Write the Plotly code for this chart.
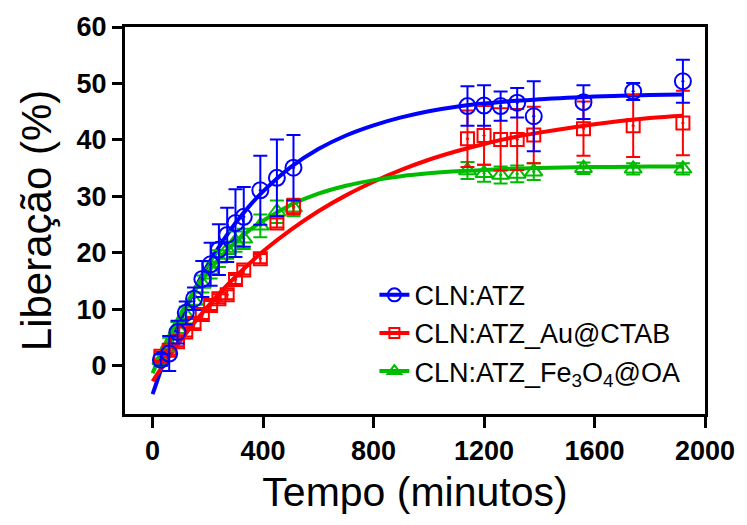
import plotly.graph_objects as go

# ---- data ----
time = [30, 60, 90, 120, 150, 180, 210, 240, 270, 300, 330, 390, 450, 510,
        1140, 1200, 1260, 1320, 1380, 1560, 1740, 1920]

atz_y = [1.1, 2.2, 6.0, 9.4, 11.9, 15.4, 18.0, 20.6, 23.2, 25.3, 26.4, 31.1, 33.3, 35.1,
         46.0, 46.1, 46.0, 46.6, 44.2, 46.7, 48.6, 50.4]
atz_err = [1.0, 3.1, 2.0, 2.0, 2.0, 3.2, 3.8, 4.5, 4.8, 6.0, 5.3, 6.1, 6.8, 5.8,
           3.5, 3.6, 2.6, 2.6, 6.2, 3.0, 1.5, 3.8]

au_y = [1.7, 2.8, 4.3, 6.0, 7.5, 9.1, 10.7, 11.9, 12.6, 15.3, 17.0, 19.0, 25.3, 28.2,
        40.2, 40.8, 40.1, 40.1, 40.9, 42.0, 42.5, 43.0]
au_err = [0.8, 0.8, 0.8, 0.8, 0.8, 0.8, 0.8, 0.8, 0.8, 0.8, 0.8, 0.8, 0.8, 1.4,
          5.0, 5.2, 5.5, 5.4, 5.0, 4.8, 5.5, 5.7]

fe_y = [1.0, 3.8, 6.5, 9.0, 11.5, 14.5, 17.0, 19.0, 20.5, 22.0, 22.5, 24.8, 27.3, 28.0,
        34.6, 34.1, 33.8, 34.0, 34.4, 35.0, 34.9, 34.9]
fe_err = [1.0, 1.2, 1.3, 1.5, 1.5, 1.5, 1.5, 1.5, 1.5, 1.8, 1.8, 2.0, 2.0, 1.5,
          1.5, 1.5, 1.5, 1.5, 1.5, 1.0, 1.0, 1.0]

# fitted curves
fit_t = [0, 50, 100, 150, 200, 250, 300, 350, 400, 500, 600, 700, 800, 900, 1000,
         1100, 1200, 1300, 1400, 1600, 1800, 1920]
fit_atz = [-5.0, 2.0, 8.0, 13.3, 17.9, 21.8, 25.3, 28.3, 30.9, 35.2, 38.4, 40.8, 42.6,
           44.0, 45.1, 45.9, 46.45, 46.9, 47.2, 47.7, 47.95, 48.05]
fit_au = [-2.7, 1.0, 4.4, 7.6, 10.55, 13.3, 15.8, 18.1, 20.3, 24.1, 27.4, 30.2, 32.6,
          34.7, 36.5, 38.0, 39.3, 40.4, 41.3, 42.8, 43.9, 44.3]
fit_fe = [-1.3, 4.35, 9.1, 13.2, 16.6, 19.5, 21.9, 24.0, 25.7, 28.5, 30.5, 31.9, 32.9,
          33.6, 34.1, 34.45, 34.7, 34.9, 35.06, 35.2, 35.3, 35.33]

names = ["CLN:ATZ", "CLN:ATZ_Au@CTAB", "CLN:ATZ_Fe<sub>3</sub>O<sub>4</sub>@OA"]
colors = ["#0000FF", "#FF0000", "#00BB00"]
symbols = ["circle-open-dot", "square-open-dot", "triangle-up-open-dot"]
sizes = [16, 13, 15]

fig = go.Figure()
series = [(atz_y, atz_err, fit_atz), (au_y, au_err, fit_au), (fe_y, fe_err, fit_fe)]

# fitted lines
for (y, e, f), c in zip(series, colors):
    fig.add_trace(go.Scatter(x=fit_t, y=f, mode="lines", line=dict(color=c, width=4, shape="spline"),
                             showlegend=False, hoverinfo="skip"))
# data points with error bars (drawn in reverse so blue is on top)
for (y, e, f), c, s, sz in reversed(list(zip(series, colors, symbols, sizes))):
    fig.add_trace(go.Scatter(x=time, y=y, mode="markers",
                             marker=dict(symbol=s, size=sz, color=c, line=dict(width=2, color=c)),
                             error_y=dict(type="data", array=e, visible=True, color=c, thickness=2, width=7),
                             showlegend=False))
# legend entries
for n, c, s, sz in zip(names, colors, symbols, sizes):
    fig.add_trace(go.Scatter(x=[None], y=[None], mode="lines+markers", name=n,
                             line=dict(color=c, width=4),
                             marker=dict(symbol=s, size=sz - 3, color=c, line=dict(width=2, color=c))))

font_family = "Liberation Sans, Arial, sans-serif"
fig.update_layout(
    width=747, height=525,
    margin=dict(l=125, r=34, t=22, b=111),
    paper_bgcolor="white", plot_bgcolor="white",
    font=dict(family=font_family, color="black"),
    legend=dict(x=0.43, y=0.37, xanchor="left", yanchor="top", bgcolor="rgba(0,0,0,0)",
                font=dict(size=27, family=font_family), tracegroupgap=0),
)
fig.update_xaxes(range=[-100, 2000], tickvals=[0, 400, 800, 1200, 1600, 2000],
                 showline=True, linewidth=3, linecolor="black", mirror=True,
                 ticks="outside", ticklen=11, tickwidth=3, tickcolor="black",
                 showgrid=False, zeroline=False,
                 tickfont=dict(size=27, weight="bold", family=font_family),
                 title=dict(text="Tempo (minutos)", font=dict(size=41, family=font_family), standoff=12))
fig.update_yaxes(range=[-8.5, 60], tickvals=[0, 10, 20, 30, 40, 50, 60],
                 showline=True, linewidth=3, linecolor="black", mirror=True,
                 ticks="outside", ticklen=10, tickwidth=3, tickcolor="black",
                 showgrid=False, zeroline=False,
                 tickfont=dict(size=27, weight="bold", family=font_family),
                 title=dict(text="Liberação (%)", font=dict(size=42, family=font_family), standoff=12))

fig.write_html("out.html")
